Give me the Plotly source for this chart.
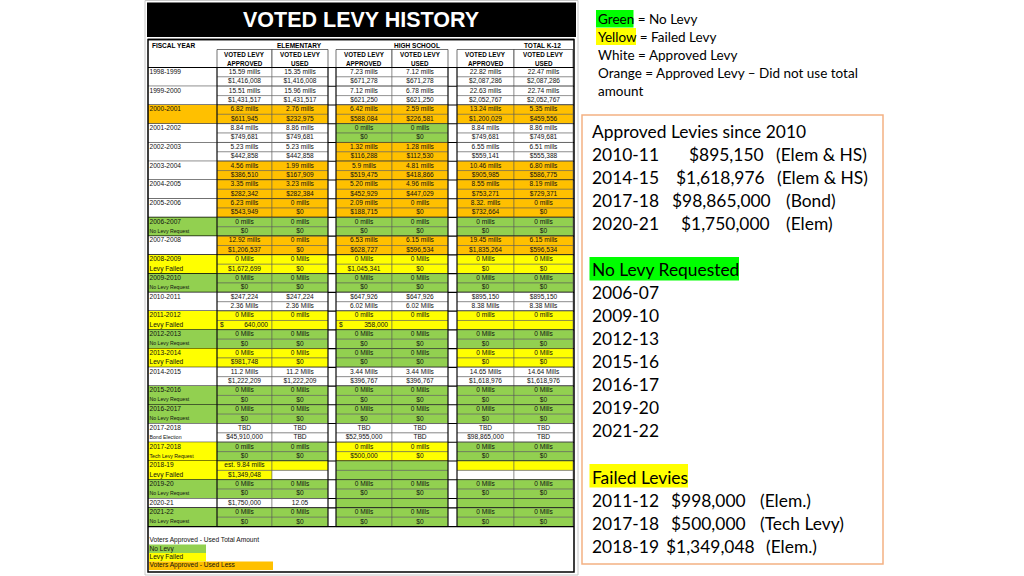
import plotly.graph_objects as go

# ---------------- data ----------------
fiscal_years = ["1998-1999", "1999-2000", "2000-2001", "2001-2002", "2002-2003", "2003-2004",
                "2004-2005", "2005-2006", "2006-2007", "2007-2008", "2008-2009", "2009-2010",
                "2010-2011", "2011-2012", "2012-2013", "2013-2014", "2014-2015", "2015-2016",
                "2016-2017", "2017-2018", "2017-2018", "2018-19", "2019-20", "2020-21", "2021-22"]
fy_notes = ["", "", "", "", "", "", "", "", "No Levy Request", "", "Levy Failed", "No Levy Request",
            "", "Levy Failed", "No Levy Request", "Levy Failed", "", "No Levy Request",
            "No Levy Request", "Bond Election", "Tech Levy Request", "Levy Failed",
            "No Levy Request", "", "No Levy Request"]
fy_colors = ["W", "W", "O", "W", "W", "W", "W", "W", "G", "W", "Y", "G", "W", "Y", "G", "Y",
             "W", "G", "G", "W", "Y", "Y", "G", "W", "G"]

elem_approved = [("15.59 mills", "$1,416,008"), ("15.51 mills", "$1,431,517"), ("6.82 mills", "$611,945"),
                 ("8.84 mills", "$749,681"), ("5.23 mills", "$442,858"), ("4.56 mills", "$386,510"),
                 ("3.35 mills", "$282,342"), ("6.23 mills", "$543,949"), ("0 mills", "$0"),
                 ("12.92 mills", "$1,206,537"), ("0 Mills", "$1,672,699"), ("0 Mills", "$0"),
                 ("$247,224", "2.36 Mills"), ("0 Mills", "$ 640,000"), ("0 Mills", "$0"),
                 ("0 Mills", "$981,748"), ("11.2 Mills", "$1,222,209"), ("0 Mills", "$0"),
                 ("0 Mills", "$0"), ("TBD", "$45,910,000"), ("0 mills", "$0"),
                 ("est. 9.84 mills", "$1,349,048"), ("0 Mills", "$0"), ("$1,750,000",), ("0 Mills", "$0")]
elem_used = [("15.35 mills", "$1,416,008"), ("15.96 mills", "$1,431,517"), ("2.76 mills", "$232,975"),
             ("8.86 mills", "$749,681"), ("5.23 mills", "$442,858"), ("1.99 mills", "$167,909"),
             ("3.23 mills", "$282,384"), ("0 mills", "$0"), ("0 mills", "$0"),
             ("0 mills", "$0"), ("0 Mills", "$0"), ("0 Mills", "$0"),
             ("$247,224", "2.36 Mills"), ("0 mills", ""), ("0 Mills", "$0"),
             ("0 Mills", "$0"), ("11.2 Mills", "$1,222,209"), ("0 Mills", "$0"),
             ("0 Mills", "$0"), ("TBD", "TBD"), ("0 mills", "$0"),
             ("", ""), ("0 Mills", "$0"), ("12.05",), ("0 Mills", "$0")]
hs_approved = [("7.23 mills", "$671,278"), ("7.12 mills", "$621,250"), ("6.42 mills", "$588,084"),
               ("0 mills", "$0"), ("1.32 mills", "$116,288"), ("5.9 mills", "$519,475"),
               ("5.20 mills", "$452,929"), ("2.09 mills", "$188,715"), ("0 mills", "$0"),
               ("6.53 mills", "$628,727"), ("0 Mills", "$1,045,341"), ("0 Mills", "$0"),
               ("$647,926", "6.02 Mills"), ("0 mills", "$ 358,000"), ("0 Mills", "$0"),
               ("0 Mills", "$0"), ("3.44 Mills", "$396,767"), ("0 Mills", "$0"),
               ("0 Mills", "$0"), ("TBD", "$52,955,000"), ("0 mills", "$500,000"),
               ("", ""), ("0 Mills", "$0"), ("",), ("0 Mills", "$0")]
hs_used = [("7.12 mills", "$671,278"), ("6.78 mills", "$621,250"), ("2.59 mills", "$226,581"),
           ("0 mills", "$0"), ("1.28 mills", "$112,530"), ("4.81 mills", "$418,866"),
           ("4.96 mills", "$447,029"), ("0 mills", "$0"), ("0 mills", "$0"),
           ("6.15 mills", "$596,534"), ("0 Mills", "$0"), ("0 Mills", "$0"),
           ("$647,926", "6.02 Mills"), ("0 mills", ""), ("0 Mills", "$0"),
           ("0 Mills", "$0"), ("3.44 Mills", "$396,767"), ("0 Mills", "$0"),
           ("0 Mills", "$0"), ("TBD", "TBD"), ("0 mills", "$0"),
           ("", ""), ("0 Mills", "$0"), ("",), ("0 Mills", "$0")]
total_approved = [("22.82 mills", "$2,087,286"), ("22.63 mills", "$2,052,767"), ("13.24 mills", "$1,200,029"),
                  ("8.84 mills", "$749,681"), ("6.55 mills", "$559,141"), ("10.46 mills", "$905,985"),
                  ("8.55 mills", "$753,271"), ("8.32. mills", "$732,664"), ("0 mills", "$0"),
                  ("19.45 mills", "$1,835,264"), ("0 Mills", "$0"), ("0 Mills", "$0"),
                  ("$895,150", "8.38 Mills"), ("0 mills", ""), ("0 Mills", "$0"),
                  ("0 Mills", "$0"), ("14.65 Mills", "$1,618,976"), ("0 Mills", "$0"),
                  ("0 Mills", "$0"), ("TBD", "$98,865,000"), ("0 Mills", "$0"),
                  ("", ""), ("0 Mills", "$0"), ("",), ("0 Mills", "$0")]
total_used = [("22.47 mills", "$2,087,286"), ("22.74 mills", "$2,052,767"), ("5.35 mills", "$459,556"),
              ("8.86 mills", "$749,681"), ("6.51 mills", "$555,388"), ("6.80 mills", "$586,775"),
              ("8.19 mills", "$729,371"), ("0 mills", "$0"), ("0 mills", "$0"),
              ("6.15 mills", "$596,534"), ("0 Mills", "$0"), ("0 Mills", "$0"),
              ("$895,150", "8.38 Mills"), ("0 mills", ""), ("0 Mills", "$0"),
              ("0 Mills", "$0"), ("14.64 Mills", "$1,618,976"), ("0 Mills", "$0"),
              ("0 Mills", "$0"), ("TBD", "TBD"), ("0 Mills", "$0"),
              ("", ""), ("0 Mills", "$0"), ("",), ("0 Mills", "$0")]

# colour codes per fiscal-year row (two letters = top / bottom sub-row)
elem_approved_c = ["W", "W", "O", "W", "W", "O", "O", "O", "G", "O", "Y", "G", "W", "Y", "G", "Y",
                   "W", "G", "G", "W", "G", "Y", "G", "W", "G"]
elem_used_c = ["W", "W", "O", "W", "W", "O", "O", "O", "G", "O", "Y", "G", "W", "Y", "G", "Y",
               "W", "G", "G", "W", "G", "YW", "G", "W", "G"]
hs_approved_c = ["W", "W", "O", "G", "O", "O", "O", "O", "G", "O", "Y", "G", "W", "Y", "G", "G",
                 "W", "G", "G", "W", "Y", "G", "G", "G", "G"]
hs_used_c = ["W", "W", "O", "G", "O", "O", "O", "O", "G", "O", "Y", "G", "W", "Y", "G", "G",
             "W", "G", "G", "W", "Y", "G", "G", "G", "G"]
total_approved_c = ["W", "W", "O", "W", "W", "O", "O", "O", "G", "O", "Y", "G", "W", "Y", "G", "Y",
                    "W", "G", "G", "W", "G", "YW", "G", "G", "G"]
total_used_c = ["W", "W", "O", "W", "W", "O", "O", "O", "G", "O", "Y", "G", "W", "Y", "G", "Y",
                "W", "G", "G", "W", "G", "YW", "G", "G", "G"]

group_titles = ["ELEMENTARY", "HIGH SCHOOL", "TOTAL K-12"]
sub_headers = [("VOTED LEVY", "APPROVED"), ("VOTED LEVY", "USED")] * 3
legend_items = ["Voters Approved - Used Total Amount", "No Levy", "Levy Failed", "Voters Approved - Used Less"]

key_colours = ["Green", "Yellow", "White", "Orange"]
key_meanings = ["No Levy", "Failed Levy", "Approved Levy", "Approved Levy \u2013 Did not use total"]

approved_years = ["2010-11", "2014-15", "2017-18", "2020-21"]
approved_amounts = ["$895,150", "$1,618,976", "$98,865,000", "$1,750,000"]
approved_notes = ["(Elem & HS)", "(Elem & HS)", "(Bond)", "(Elem)"]
no_levy_years = ["2006-07", "2009-10", "2012-13", "2015-16", "2016-17", "2019-20", "2021-22"]
failed_years = ["2011-12", "2017-18", "2018-19"]
failed_amounts = ["$998,000", "$500,000", "$1,349,048"]
failed_notes = ["(Elem.)", "(Tech Levy)", "(Elem.)"]

# ---------------- styling ----------------
PAL = {"W": "#FFFFFF", "O": "#FFC000", "G": "#92D050", "Y": "#FFFF00"}
ARIAL = "Liberation Sans"
CAL = "Lato"
COLS = [(217, 272), (272, 328), (336, 392), (392, 448), (457, 514), (514, 573)]
FY_X = (148, 217)
TOP, SH = 67.5, 9.37

columns = [(elem_approved, elem_approved_c), (elem_used, elem_used_c),
           (hs_approved, hs_approved_c), (hs_used, hs_used_c),
           (total_approved, total_approved_c), (total_used, total_used_c)]

shapes = []
annotations = []


def rect(x0, y0, x1, y1, fill, lc="rgba(0,0,0,0)", lw=0, layer="below"):
    shapes.append(dict(type="rect", x0=x0, y0=y0, x1=x1, y1=y1, fillcolor=fill,
                       line=dict(color=lc, width=lw), layer=layer, xref="x", yref="y"))


def line(x0, y0, x1, y1, color="#000", width=1, layer="below"):
    shapes.append(dict(type="line", x0=x0, y0=y0, x1=x1, y1=y1,
                       line=dict(color=color, width=width), layer=layer, xref="x", yref="y"))


tx = {"c": ([], [], []), "l": ([], [], []), "r": ([], [], [])}
small_l = ([], [], [])


def put(kind, x, y, t):
    tx[kind][0].append(x)
    tx[kind][1].append(y)
    tx[kind][2].append(t)


# outer frame of the table picture
rect(145, 0.5, 578, 575, "#FFFFFF", "#C8C8C8", 1)
# title bar
rect(147, 2.5, 576, 37, "#000000")
annotations.append(dict(x=361, y=19.5, text="<b>VOTED LEVY HISTORY</b>", showarrow=False,
                        font=dict(family=ARIAL, size=21.5, color="#FFFFFF"), xanchor="center", yanchor="middle"))

# header
annotations.append(dict(x=150, y=45, text="<b>FISCAL YEAR</b>", showarrow=False, xanchor="left",
                        yanchor="middle", font=dict(family=ARIAL, size=6.5, color="#000")))
for t, xc in zip(group_titles, [299, 417, 542]):
    annotations.append(dict(x=xc, y=45, text="<b>" + t + "</b>", showarrow=False, xanchor="center",
                            yanchor="middle", font=dict(family=ARIAL, size=6.5, color="#000")))
for (x0, x1), (a, b) in zip(COLS, sub_headers):
    rect(x0, 49.5, x1, TOP, "#FFFFFF", "#333", 0.7)
    for t, yy in ((a, 54.5), (b, 63)):
        annotations.append(dict(x=(x0 + x1) / 2, y=yy, text="<b>" + t + "</b>", showarrow=False,
                                xanchor="center", yanchor="middle",
                                font=dict(family=ARIAL, size=6.3, color="#000")))

# body
cur = TOP
for i, fy in enumerate(fiscal_years):
    nsub = len(elem_approved[i])
    y0, y1 = cur, cur + nsub * SH
    rect(FY_X[0], y0, FY_X[1], y1, PAL[fy_colors[i]])
    put("r", 149.5, y0 + SH / 2, fy)
    note = fy_notes[i]
    if note:
        if note == "Levy Failed":
            put("r", 149.5, y0 + 1.5 * SH, note)
        else:
            small_l[0].append(149.5)
            small_l[1].append(y0 + 1.5 * SH)
            small_l[2].append(note)
    for (x0, x1), (vals, codes) in zip(COLS, columns):
        code = codes[i]
        for k in range(nsub):
            c = code[k] if len(code) > 1 else code[0]
            ya, yb = y0 + k * SH, y0 + (k + 1) * SH
            rect(x0, ya, x1, yb, PAL[c], "#555", 0.5)
            v = vals[i][k]
            if v.startswith("$ "):
                put("r", x0 + 3, (ya + yb) / 2, "$")
                put("l", x1 - 4, (ya + yb) / 2, v[2:])
            elif v:
                put("c", (x0 + x1) / 2, (ya + yb) / 2, v)
    line(FY_X[0], y1, 574, y1, "#000", 1.1)
    cur = y1
BOTTOM = cur

for xv in (217, 328, 336, 448, 457):
    line(xv, TOP, xv, BOTTOM, "#000", 1)
line(FY_X[0], TOP, 574, TOP, "#000", 1.1)
line(FY_X[0], 39.5, 574, 39.5, "#000", 1.5)

# bottom legend of the table
rect(149, 544.5, 206, 553, PAL["G"])
rect(149, 553, 206, 561.5, PAL["Y"])
rect(149, 561.5, 273, 570, PAL["O"])
for t, yy in zip(legend_items, [540, 549, 557.3, 565.8]):
    put("r", 149.5, yy, t)

rect(148, 39.5, 574, 572, "rgba(0,0,0,0)", "#000", 1.5, layer="above")

fig = go.Figure()
for kind, pos in (("c", "middle center"), ("l", "middle left"), ("r", "middle right")):
    xs, ys, ts = tx[kind]
    fig.add_trace(go.Scatter(x=xs, y=ys, text=ts, mode="text", textposition=pos,
                             textfont=dict(family=ARIAL, size=6.6, color="#111"),
                             hoverinfo="skip", showlegend=False))
fig.add_trace(go.Scatter(x=small_l[0], y=small_l[1], text=small_l[2], mode="text",
                         textposition="middle right",
                         textfont=dict(family=ARIAL, size=5.2, color="#111"),
                         hoverinfo="skip", showlegend=False))

# ------------- right side -------------
rect(596, 10, 633.5, 27.5, "#00FF00")
rect(596, 28, 636, 45, "#FFFF00")
for k, (c, m) in enumerate(zip(key_colours, key_meanings)):
    annotations.append(dict(x=596, y=19 + 18 * k, text=c + " = " + m, showarrow=False,
                            xanchor="left", yanchor="middle",
                            font=dict(family=CAL, size=13.5, color="#000")))
annotations.append(dict(x=596, y=91, text="amount", showarrow=False, xanchor="left", yanchor="middle",
                        font=dict(family=CAL, size=13.5, color="#000")))

rect(582, 115, 883, 564, "rgba(0,0,0,0)", "#F4B183", 1.5)
rect(589.5, 257, 739, 280.5, "#00FF00")
rect(589.5, 464, 688, 487.5, "#FFFF00")

BF = dict(family=CAL, size=17.4, color="#000")


def txt(x, y, t, anchor="left"):
    annotations.append(dict(x=x, y=y, text=t, showarrow=False, xanchor=anchor, yanchor="middle", font=BF))


txt(590, 131, "Approved Levies since 2010")
amt_end = [766, 767, 773, 772]
note_x = [772, 773, 782, 782]
for k, (yr, am, nt) in enumerate(zip(approved_years, approved_amounts, approved_notes)):
    yy = 154 + 23 * k
    txt(590, yy, yr)
    txt(amt_end[k], yy, am, "right")
    txt(note_x[k] + 2, yy, nt)
txt(590, 269, "No Levy Requested")
for k, yr in enumerate(no_levy_years):
    txt(590, 292 + 23 * k, yr)
txt(590, 477, "Failed Levies")
f_amt_end = [748, 748, 757]
f_note_x = [758, 758, 764]
for k, (yr, am, nt) in enumerate(zip(failed_years, failed_amounts, failed_notes)):
    yy = 500 + 23 * k
    txt(590, yy, yr)
    txt(f_amt_end[k], yy, am, "right")
    txt(f_note_x[k], yy, nt)

fig.update_layout(
    width=1024, height=576, margin=dict(l=0, r=0, t=0, b=0),
    paper_bgcolor="#FFFFFF", plot_bgcolor="#FFFFFF",
    xaxis=dict(range=[0, 1024], visible=False, fixedrange=True),
    yaxis=dict(range=[576, 0], visible=False, fixedrange=True),
    shapes=shapes, annotations=annotations, showlegend=False,
)
fig.write_html("out.html", config={"displayModeBar": False},
               post_script="document.body.style.margin='0px';document.body.style.padding='0px';")
